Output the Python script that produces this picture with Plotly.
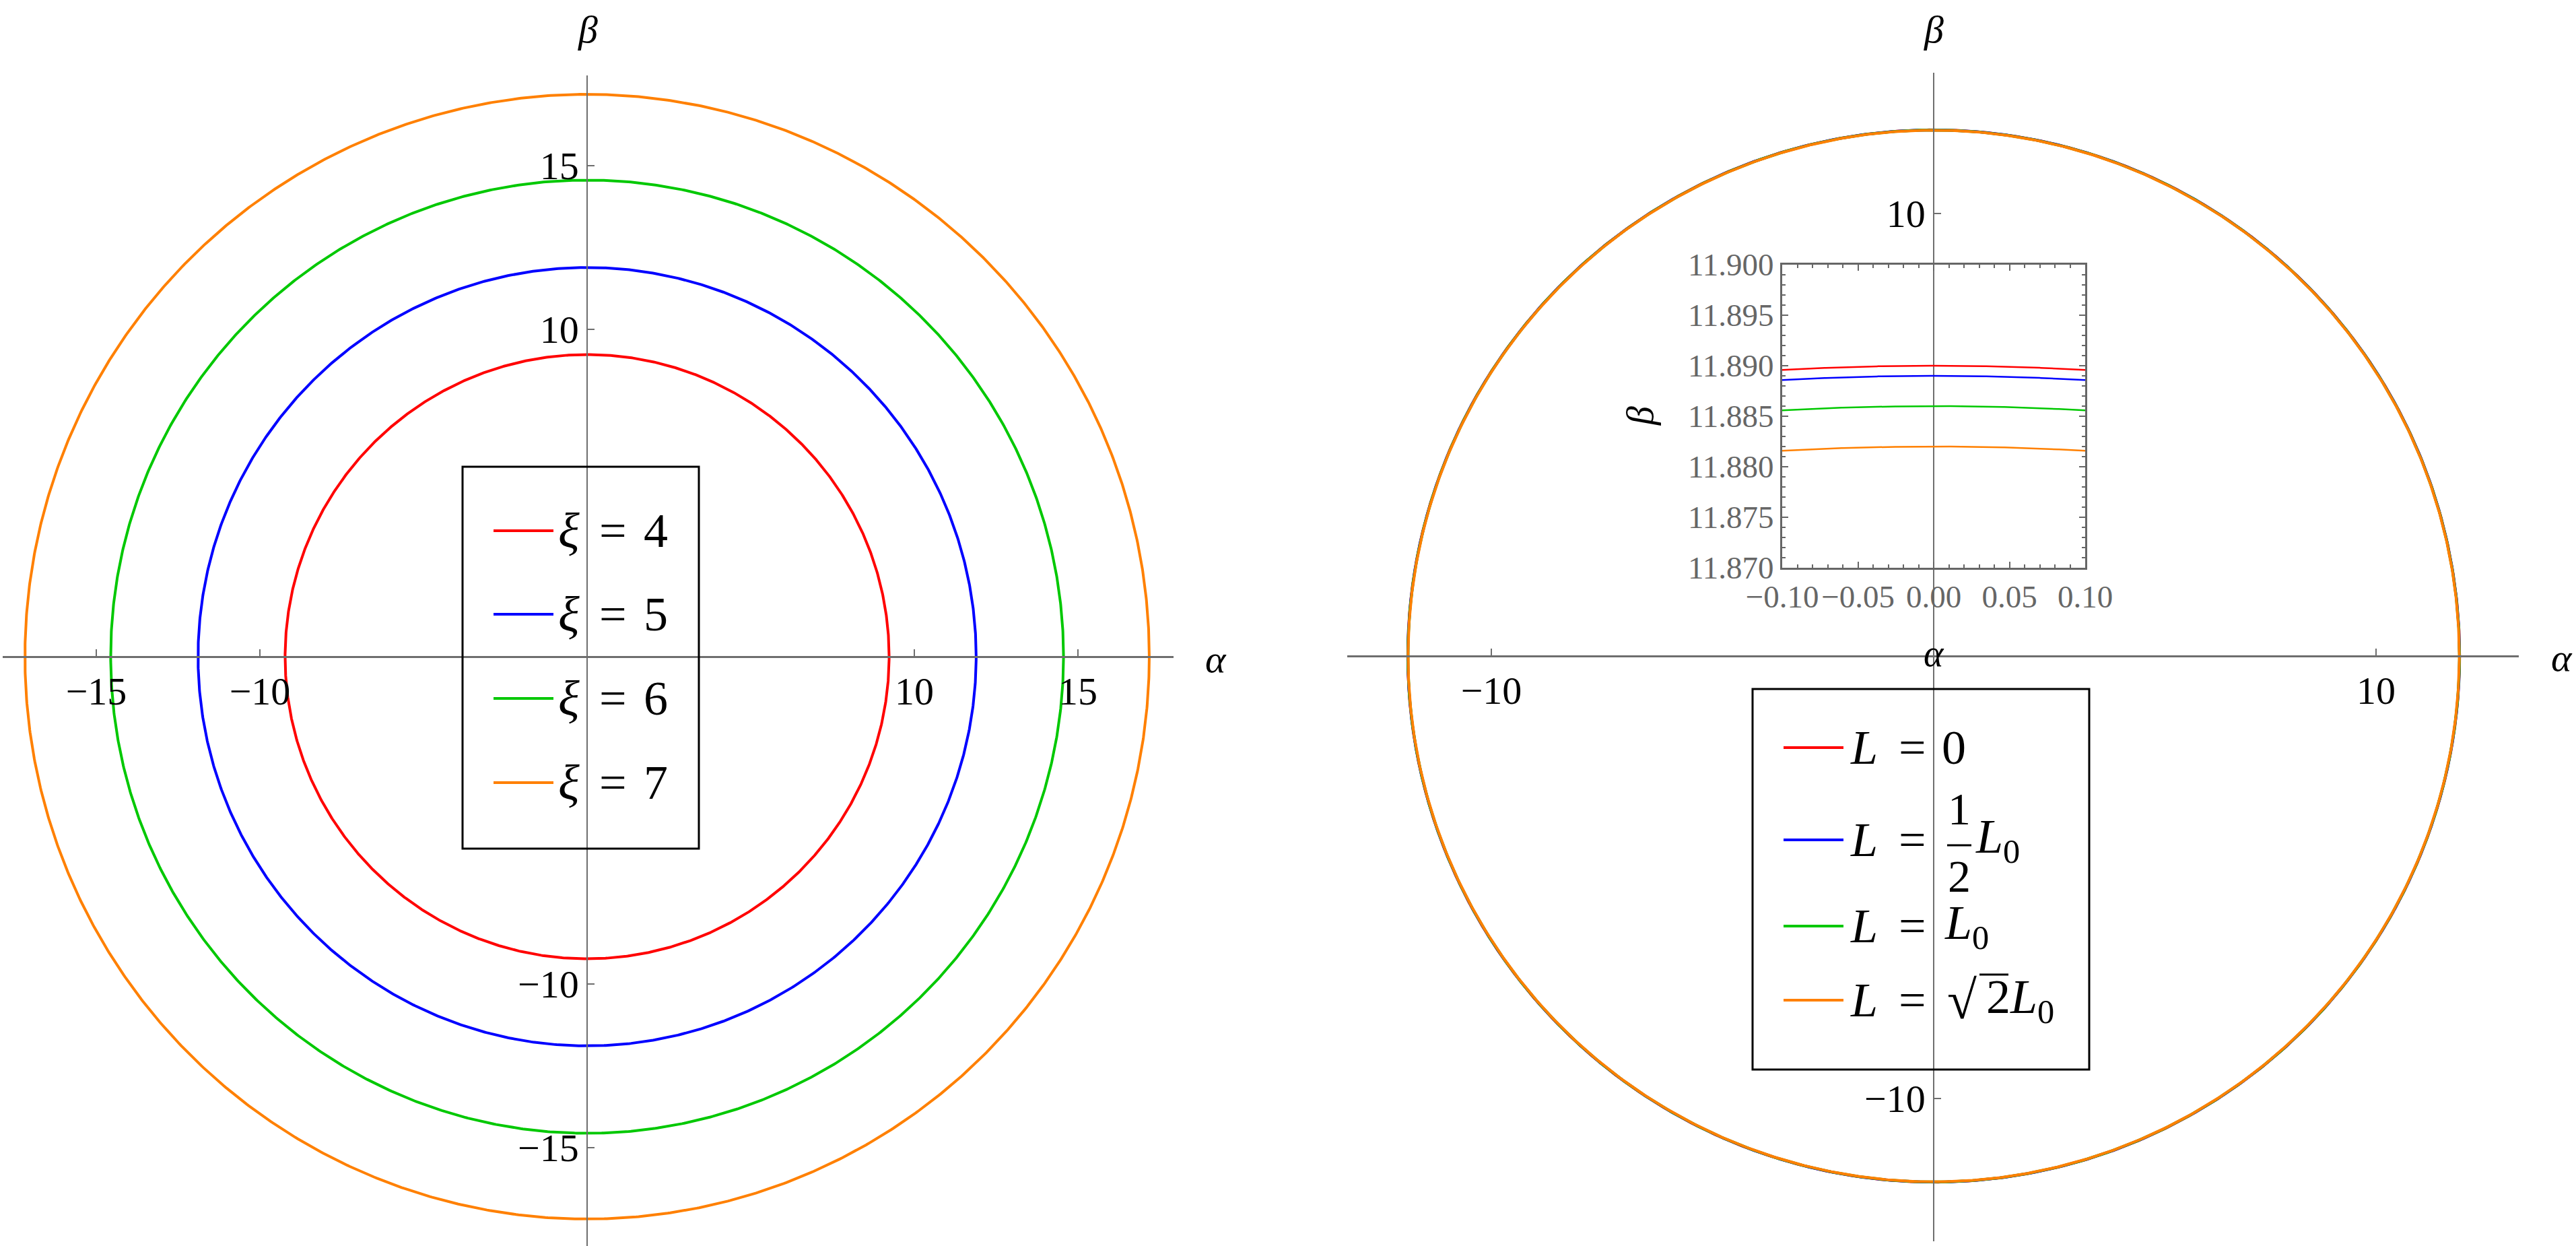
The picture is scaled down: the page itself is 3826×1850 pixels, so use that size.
import numpy as np
import plotly.graph_objects as go

W, H = 3826, 1850

# ---------------- data ----------------
# Left panel: shadow boundary for different xi
xi_values = [4, 5, 6, 7]
xi_radii = [9.23, 11.89, 14.56, 17.18]
series_colors = ["#ff0000", "#0000ff", "#00c800", "#ff8000"]

# Right panel: shadow boundary for different L (xi = 5)
L_names = ["0", "1/2 L0", "L0", "sqrt(2) L0"]
L_radii = [11.8900, 11.8890, 11.8860, 11.8820]

left_ticks = [-15, -10, 10, 15]
right_ticks = [-10, 10]
inset_xticks = [-0.10, -0.05, 0.00, 0.05, 0.10]
inset_yticks = [11.870, 11.875, 11.880, 11.885, 11.890, 11.895, 11.900]
inset_xrange = [-0.10, 0.10]
inset_yrange = [11.870, 11.900]

# ---------------- helpers ----------------
SERIF = "Liberation Serif, Times New Roman, serif"
AX = "#6e6e6e"
FR = "#666666"


def P(px):
    return px / W


def Q(py):
    return 1 - py / H


def fmt(v, nd=0):
    s = f"{abs(v):.{nd}f}"
    return ("\u2212" + s) if v < 0 else s


theta = np.linspace(0, 2 * np.pi, 1441)
alpha = np.linspace(inset_xrange[0], inset_xrange[1], 301)

fig = go.Figure()

for r, c in zip(xi_radii, series_colors):
    fig.add_trace(go.Scatter(x=r * np.cos(theta), y=r * np.sin(theta), mode="lines",
                             line=dict(color=c, width=4), xaxis="x", yaxis="y",
                             showlegend=False, hoverinfo="skip"))

for r, c in zip(L_radii, series_colors):
    fig.add_trace(go.Scatter(x=r * np.cos(theta), y=r * np.sin(theta), mode="lines",
                             line=dict(color=c, width=4), xaxis="x2", yaxis="y2",
                             showlegend=False, hoverinfo="skip"))

for r, c in zip(L_radii, series_colors):
    fig.add_trace(go.Scatter(x=alpha, y=np.sqrt(r ** 2 - alpha ** 2), mode="lines",
                             line=dict(color=c, width=2.5), xaxis="x3", yaxis="y3",
                             showlegend=False, hoverinfo="skip"))

# ---------------- geometry (pixels) ----------------
Lcx, Lcy, Ls = 872, 975, 48.6
Lx0, Lx1, Ly0, Ly1 = 4, 1743, 112, 1850
Rcx, Rcy, Rs = 2872, 974, 65.7
Rx0, Rx1, Ry0, Ry1 = 2001, 3741, 108, 1843
Ix0, Ix1, Iy0, Iy1 = 2647, 3097, 393, 843

tickfont_main = dict(family=SERIF, size=58, color="black")
tickfont_inset = dict(family=SERIF, size=47, color=FR)

common_x = dict(showline=True, linecolor=AX, linewidth=2.5, ticks="inside", ticklen=10,
                tickwidth=1.5, tickcolor=AX, showgrid=False, zeroline=False,
                tickfont=tickfont_main, fixedrange=True, anchor="free", tickangle=0)
common_y = dict(showline=True, linecolor=AX, linewidth=1.5, ticks="inside", ticklen=10,
                tickwidth=1.5, tickcolor=AX, showgrid=False, zeroline=False,
                tickfont=tickfont_main, fixedrange=True, anchor="free")

layout = dict(
    width=W, height=H, autosize=False,
    margin=dict(l=0, r=0, t=0, b=0, pad=0, autoexpand=False),
    paper_bgcolor="white", plot_bgcolor="rgba(0,0,0,0)",
    showlegend=False,
    xaxis=dict(common_x, domain=[P(Lx0), P(Lx1)],
               range=[(Lx0 - Lcx) / Ls, (Lx1 - Lcx) / Ls], position=Q(Lcy),
               tickvals=left_ticks, ticktext=[fmt(v) for v in left_ticks]),
    yaxis=dict(common_y, domain=[Q(Ly1), Q(Ly0)],
               range=[-(Ly1 - Lcy) / Ls, (Lcy - Ly0) / Ls], position=P(Lcx),
               tickvals=left_ticks, ticktext=[fmt(v) for v in left_ticks]),
    xaxis2=dict(common_x, domain=[P(Rx0), P(Rx1)],
                range=[(Rx0 - Rcx) / Rs, (Rx1 - Rcx) / Rs], position=Q(Rcy),
                tickvals=right_ticks, ticktext=[fmt(v) for v in right_ticks]),
    yaxis2=dict(common_y, domain=[Q(Ry1), Q(Ry0)],
                range=[-(Ry1 - Rcy) / Rs, (Rcy - Ry0) / Rs], position=P(Rcx),
                tickvals=right_ticks, ticktext=[fmt(v) for v in right_ticks]),
    xaxis3=dict(domain=[P(Ix0), P(Ix1)], range=inset_xrange, anchor="y3",
                showline=True, mirror="ticks", linecolor=FR, linewidth=3,
                ticks="inside", ticklen=9, tickwidth=2, tickcolor=FR, tickangle=0,
                tickmode="array", tickvals=inset_xticks,
                ticktext=[fmt(v, 2) for v in inset_xticks],
                minor=dict(tickmode="linear", tick0=inset_xrange[0], dtick=0.01,
                           ticks="inside", ticklen=5, tickwidth=1.5, tickcolor=FR),
                tickfont=tickfont_inset, showgrid=False, zeroline=False, fixedrange=True),
    yaxis3=dict(domain=[Q(Iy1), Q(Iy0)], range=inset_yrange, anchor="x3",
                showline=True, mirror="ticks", linecolor=FR, linewidth=3,
                ticks="inside", ticklen=9, tickwidth=2, tickcolor=FR,
                tickmode="array", tickvals=inset_yticks,
                ticktext=[f"{v:.3f}" for v in inset_yticks],
                minor=dict(tickmode="linear", tick0=inset_yrange[0], dtick=0.001,
                           ticks="inside", ticklen=5, tickwidth=1.5, tickcolor=FR),
                tickfont=tickfont_inset, showgrid=False, zeroline=False, fixedrange=True),
)
fig.update_layout(**layout)

ann = []
shapes = []


def text(px, py, s, size=58, xanchor="center", yanchor="middle", color="black", angle=0):
    ann.append(dict(x=P(px), y=Q(py), xref="paper", yref="paper", text=s, showarrow=False,
                    xanchor=xanchor, yanchor=yanchor, textangle=angle,
                    font=dict(family=SERIF, size=size, color=color)))


def hline(x0, x1, y, color="black", width=3):
    shapes.append(dict(type="line", xref="paper", yref="paper", x0=P(x0), x1=P(x1),
                       y0=Q(y), y1=Q(y), line=dict(color=color, width=width)))


# axis labels
text(873, 44, "<i>β</i>")
text(1806, 978, "<i>α</i>")
text(2872, 44, "<i>β</i>")
text(3805, 976, "<i>α</i>")
# inset axis labels
text(2436, 618, "<i>β</i>", size=56, angle=-90)
text(2872, 970, "<i>α</i>", size=56)

# ---------------- left legend ----------------
shapes.append(dict(type="rect", xref="paper", yref="paper", x0=P(687), x1=P(1038),
                   y0=Q(1260), y1=Q(693), line=dict(color="black", width=3)))
rows_left = [788, 912, 1037, 1162]
for yy, c, xi in zip(rows_left, series_colors, xi_values):
    hline(733, 822, yy, color=c, width=4)
    text(845, yy, "<i>ξ</i>", size=74)
    text(910, yy, "=", size=72)
    text(974, yy, str(xi), size=72)

# ---------------- right legend ----------------
shapes.append(dict(type="rect", xref="paper", yref="paper", x0=P(2603), x1=P(3103),
                   y0=Q(1588), y1=Q(1023), line=dict(color="black", width=3)))
rows_right = [1110, 1247, 1375, 1485]
for yy, c in zip(rows_right, series_colors):
    hline(2649, 2738, yy, color=c, width=4)
    text(2768, yy, "<i>L</i>", size=72)
    text(2840, yy, "=", size=72)

# row 1: 0
text(2902, rows_right[0], "0", size=72)
# row 2: 1/2 L0
text(2910, 1201, "1", size=68)
text(2910, 1301, "2", size=68)
hline(2892, 2928, 1255)
text(2932, rows_right[1], "<i>L</i><sub>0</sub>", size=72, xanchor="left")
# row 3: L0
text(2886, rows_right[2], "<i>L</i><sub>0</sub>", size=72, xanchor="left")
# row 4: sqrt(2) L0
text(2890, rows_right[3], "√", size=80, xanchor="left")
text(2948, rows_right[3], "2<i>L</i><sub>0</sub>", size=72, xanchor="left")
hline(2940, 2983, 1447)

fig.update_layout(annotations=ann, shapes=shapes)

fig.write_html("out.html", config={"displayModeBar": False, "responsive": False},
               post_script="document.body.style.margin='0';document.body.style.overflow='hidden';")
